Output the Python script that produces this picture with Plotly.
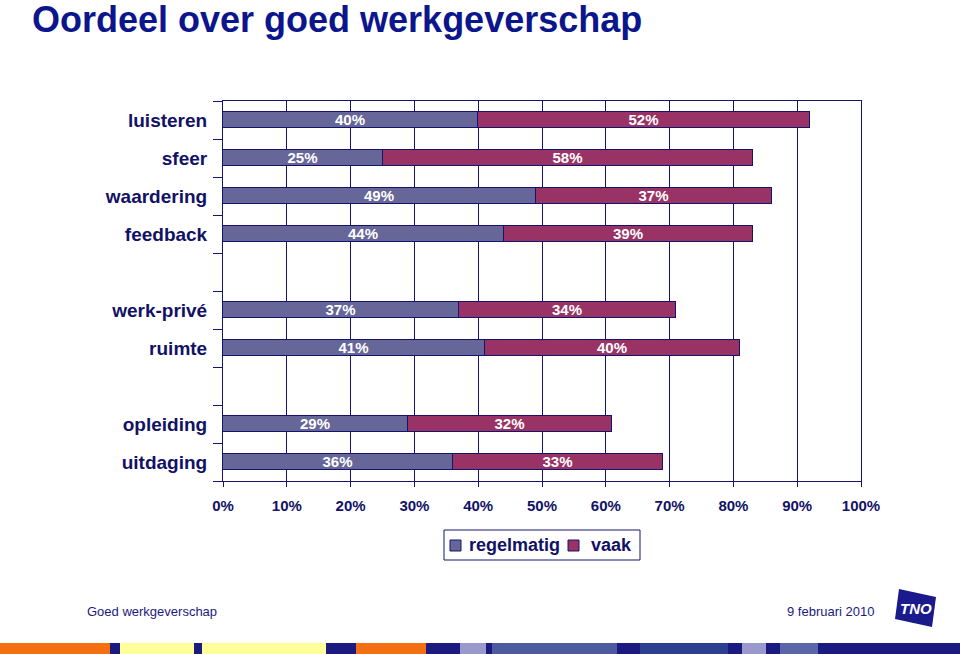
import plotly.graph_objects as go

categories = ["luisteren", "sfeer", "waardering", "feedback", "", "werk-privé", "ruimte", "", "opleiding", "uitdaging"]
regelmatig = [40, 25, 49, 44, None, 37, 41, None, 29, 36]
vaak = [52, 58, 37, 39, None, 34, 40, None, 32, 33]
series_names = ["regelmatig", "vaak"]
series_colors = ["#666699", "#993366"]
x_ticks = [0, 10, 20, 30, 40, 50, 60, 70, 80, 90, 100]
x_ticklabels = [f"{v}%" for v in x_ticks]

NAVY = "#14146e"
TXT = "#111166"
FONT = "Liberation Sans, Arial, sans-serif"

ypos = list(range(len(categories)))

def lbl(vals):
    return [f"<b>{v}%</b>" if v is not None else "" for v in vals]

fig = go.Figure()
for name, vals, col in zip(series_names, [regelmatig, vaak], series_colors):
    fig.add_trace(go.Bar(
        name=name, y=ypos, x=vals, orientation="h",
        marker=dict(color=col, line=dict(color=NAVY, width=1)),
        width=0.42, text=lbl(vals), textposition="inside",
        insidetextanchor="middle", textangle=0, constraintext="none",
        textfont=dict(color="white", size=15, family=FONT),
        hoverinfo="skip", showlegend=False))

L, R, T, B = 223, 99, 101, 173
W, H = 960, 654
pw, ph = W - L - R, H - T - B

def px(x):
    return (x - L) / pw

def py(y):
    return (H - B - y) / ph

shapes = []
strip = [
    (0, 110, "#f36f12"), (110, 120, "#1a1a80"), (120, 194, "#ffff99"),
    (194, 202, "#1a1a80"), (202, 326, "#ffff99"), (326, 356, "#1a1a80"),
    (356, 426, "#f36f12"), (426, 460, "#1a1a80"), (460, 486, "#9999cc"),
    (486, 492, "#1a1a80"), (492, 617, "#4d5aa0"), (617, 640, "#1a1a80"),
    (640, 728, "#2d3f8f"), (728, 742, "#1a1a80"), (742, 766, "#9999cc"),
    (766, 780, "#1a1a80"), (780, 818, "#5a66a8"), (818, 960, "#1a1a80"),
]
for a, b, c in strip:
    shapes.append(dict(type="rect", xref="paper", yref="paper",
                       x0=px(a), x1=px(b), y0=py(654), y1=py(643),
                       fillcolor=c, line=dict(width=0), layer="above"))
logo = [(899, 589), (936, 597), (932, 627), (895, 619)]
path = "M " + " L ".join(f"{px(x)},{py(y)}" for x, y in logo) + " Z"
shapes.append(dict(type="path", xref="paper", yref="paper", path=path,
                   fillcolor="#1a1a8c", line=dict(width=0)))

# manual legend
shapes.append(dict(type="rect", xref="paper", yref="paper",
                   x0=px(444), x1=px(640), y0=py(560), y1=py(530),
                   fillcolor="white", line=dict(color=NAVY, width=1)))
legend_items = [(450, 467), (568, 589)]
annotations = []
for (sx, tx), name, col in zip(legend_items, series_names, series_colors):
    shapes.append(dict(type="rect", xref="paper", yref="paper",
                       x0=px(sx), x1=px(sx + 11), y0=py(551), y1=py(540),
                       fillcolor=col, line=dict(color=NAVY, width=1)))
    annotations.append(dict(text=f"<b>{name}</b>", xref="paper", yref="paper",
                            x=px(tx), y=py(545), xanchor="left", yanchor="middle",
                            showarrow=False, font=dict(size=18, color=TXT, family=FONT)))

annotations += [
    dict(text="<b>Oordeel over goed werkgeverschap</b>", xref="paper", yref="paper",
         x=px(30), y=py(20), xanchor="left", yanchor="middle", showarrow=False,
         font=dict(size=36, color="#0c168c", family=FONT)),
    dict(text="Goed werkgeverschap", xref="paper", yref="paper",
         x=px(85), y=py(611), xanchor="left", yanchor="middle", showarrow=False,
         font=dict(size=13, color="#1a1a80", family=FONT)),
    dict(text="9 februari 2010", xref="paper", yref="paper",
         x=px(876), y=py(611), xanchor="right", yanchor="middle", showarrow=False,
         font=dict(size=13, color="#1a1a80", family=FONT)),
    dict(text="<b><i>TNO</i></b>", xref="paper", yref="paper",
         x=px(916), y=py(608), xanchor="center", yanchor="middle", showarrow=False,
         font=dict(size=15, color="white", family=FONT)),
]

fig.update_layout(
    width=W, height=H, barmode="stack", bargap=0,
    margin=dict(l=L, r=R, t=T, b=B, pad=0, autoexpand=False),
    paper_bgcolor="white", plot_bgcolor="white",
    font=dict(family=FONT, color=TXT),
    showlegend=False,
    shapes=shapes, annotations=annotations,
)
fig.update_xaxes(range=[0, 100], tickvals=x_ticks, ticktext=[f"<b>{t}</b>" for t in x_ticklabels],
                 tickfont=dict(size=15, color=TXT, family=FONT), tickangle=0,
                 showgrid=True, gridcolor=NAVY, gridwidth=1,
                 showline=True, linecolor=NAVY, linewidth=1, mirror=True,
                 ticks="outside", ticklen=5, tickcolor=NAVY, zeroline=False,
                 ticklabelstandoff=6, automargin=False, fixedrange=True)
fig.update_yaxes(range=[len(categories) - 0.5, -0.5], tickvals=ypos,
                 ticktext=[f"<b>{c}</b>" for c in categories],
                 tickfont=dict(size=19, color=TXT, family=FONT),
                 ticks="", ticklen=0, showgrid=False,
                 showline=True, linecolor=NAVY, linewidth=1, mirror=True,
                 zeroline=False, ticklabelstandoff=11, automargin=False,
                 minor=dict(tick0=0.5, dtick=1, ticks="outside", ticklen=9, tickcolor=NAVY, showgrid=False),
                 fixedrange=True)

fig.write_html("out.html", config={"displayModeBar": False},
               post_script="document.body.style.margin='0';document.body.style.overflow='hidden';")
